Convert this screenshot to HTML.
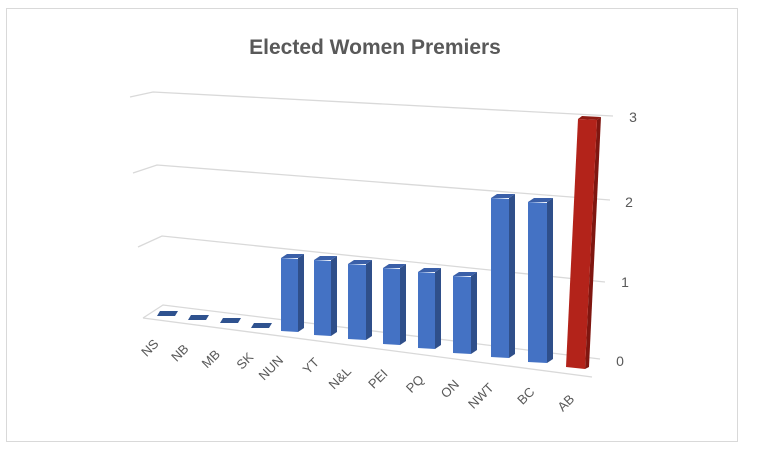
<!DOCTYPE html>
<html><head><meta charset="utf-8"><style>
html,body{margin:0;padding:0;background:#fff;}
svg{display:block;font-family:"Liberation Sans",sans-serif;}
</style></head><body>
<svg width="760" height="458" viewBox="0 0 760 458">
<rect x="0" y="0" width="760" height="458" fill="#fff"/>
<rect x="6.5" y="8.5" width="731" height="433" fill="none" stroke="#d9d9d9" stroke-width="1"/>
<text x="375" y="54" text-anchor="middle" font-size="21" font-weight="bold" fill="#595959">Elected Women Premiers</text>
<g stroke="#d9d9d9" stroke-width="1.3" fill="none">
<polyline points="130,97 153,92 613,116"/>
<polyline points="133,173 157,165 610,200"/>
<polyline points="138,247 162,236 605,282"/>
<polyline points="143,318 163,305 600,359"/>
<line x1="143" y1="318" x2="592" y2="377"/>
</g>
<g font-size="14" fill="#595959" text-anchor="middle">
<text x="633" y="122">3</text>
<text x="629" y="207">2</text>
<text x="625" y="287">1</text>
<text x="620" y="366">0</text>
</g>
<g fill="#2f528f">
<polygon points="160,311 178,311 175,316 157,316"/>
<polygon points="191,315 209,315 206,320 188,320"/>
<polygon points="223,318 241,318 238,323 220,323"/>
<polygon points="254,323 272,323 269,328 251,328"/>
</g>
<!-- NUN -->
<polygon fill="#2f4f8a" points="298,258 304,254 304,328 298,332"/>
<polygon fill="#3a5fa8" points="281,258 287,254 304,254 298,258"/>
<polygon fill="#4472c4" points="281,258 298,259 298,332 281,331"/>
<!-- YT -->
<polygon fill="#2f4f8a" points="331,260 337,256 337,332 331,336"/>
<polygon fill="#3a5fa8" points="314,260 320,256 337,256 331,260"/>
<polygon fill="#4472c4" points="314,260 331,261 331,336 314,335"/>
<!-- N&L -->
<polygon fill="#2f4f8a" points="366,264 372,260 372,336 366,340"/>
<polygon fill="#3a5fa8" points="348,264 354,260 372,260 366,264"/>
<polygon fill="#4472c4" points="348,264 366,265 366,340 348,339"/>
<!-- PEI -->
<polygon fill="#2f4f8a" points="400,268 406,264 406,341 400,345"/>
<polygon fill="#3a5fa8" points="383,268 389,264 406,264 400,268"/>
<polygon fill="#4472c4" points="383,268 400,269 400,345 383,344"/>
<!-- PQ -->
<polygon fill="#2f4f8a" points="435,272 441,268 441,345 435,349"/>
<polygon fill="#3a5fa8" points="418,272 424,268 441,268 435,272"/>
<polygon fill="#4472c4" points="418,272 435,273 435,349 418,348"/>
<!-- ON -->
<polygon fill="#2f4f8a" points="471,276 477,272 477,350 471,354"/>
<polygon fill="#3a5fa8" points="453,276 459,272 477,272 471,276"/>
<polygon fill="#4472c4" points="453,276 471,277 471,354 453,353"/>
<!-- NWT -->
<polygon fill="#2f4f8a" points="509,198 515,194 515,354 509,358"/>
<polygon fill="#3a5fa8" points="491,198 497,194 515,194 509,198"/>
<polygon fill="#4472c4" points="491,198 509,199 509,358 491,357"/>
<!-- BC -->
<polygon fill="#2f4f8a" points="547,202 553,198 553,359 547,363"/>
<polygon fill="#3a5fa8" points="528,202 534,198 553,198 547,202"/>
<polygon fill="#4472c4" points="528,202 547,203 547,363 528,362"/>
<!-- AB -->
<polygon fill="#7f1610" points="597,120 601,117 589,367 585,369"/>
<polygon fill="#8e1a12" points="578,119 582,116 601,117 597,120"/>
<polygon fill="#b3231a" points="578,119 597,120 585,369 566,367"/>
<g font-size="13" fill="#595959" text-anchor="middle">
<text transform="translate(153,351) rotate(-45)">NS</text>
<text transform="translate(183,356) rotate(-45)">NB</text>
<text transform="translate(214,362) rotate(-45)">MB</text>
<text transform="translate(248,364) rotate(-45)">SK</text>
<text transform="translate(274,371) rotate(-45)">NUN</text>
<text transform="translate(314,369) rotate(-45)">YT</text>
<text transform="translate(343,381) rotate(-45)">N&amp;L</text>
<text transform="translate(381,382) rotate(-45)">PEI</text>
<text transform="translate(418,387) rotate(-45)">PQ</text>
<text transform="translate(453,392) rotate(-45)">ON</text>
<text transform="translate(484,399) rotate(-45)">NWT</text>
<text transform="translate(529,399) rotate(-45)">BC</text>
<text transform="translate(569,406) rotate(-45)">AB</text>
</g>
</svg>
</body></html>
